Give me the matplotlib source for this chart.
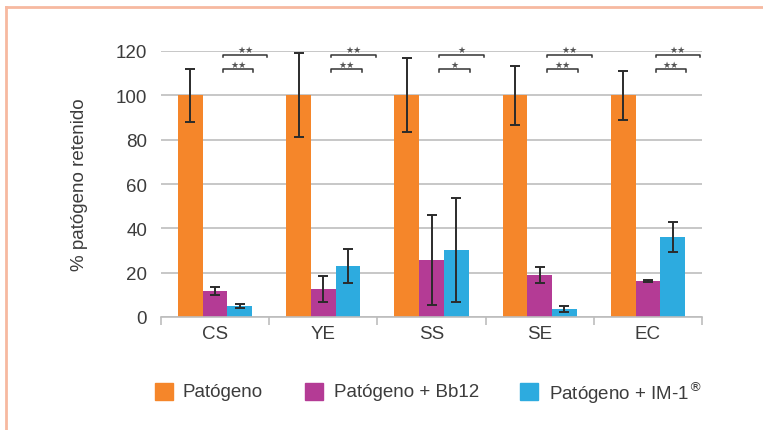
import matplotlib
matplotlib.use("Agg")
import matplotlib.pyplot as plt
from matplotlib.patches import Rectangle
from matplotlib.lines import Line2D
import numpy as np

plt.rcParams['font.family'] = ['Liberation Sans', 'DejaVu Sans']

categories = ["CS", "YE", "SS", "SE", "EC"]
series_names = ["Patógeno", "Patógeno + Bb12", "Patógeno + IM-1$^{®}$"]
patogeno = [100, 100, 100, 100, 100]
patogeno_err = [12, 19, 16.7, 13.3, 11.2]
bb12 = [11.7, 12.6, 25.7, 18.9, 16.2]
bb12_err = [1.9, 5.8, 20.2, 3.5, 0.4]
im1 = [5.0, 23.0, 30.2, 3.6, 36.1]
im1_err = [0.9, 7.6, 23.6, 1.2, 6.6]
# significance marks per category: (upper bracket, lower bracket)
sig_upper = ["★★", "★★", "★", "★★", "★★"]
sig_lower = ["★★", "★★", "★", "★★", "★★"]
yticks = [0, 20, 40, 60, 80, 100, 120]

colors = ["#F5862A", "#B43B95", "#2DABDF"]
text_color = "#3c3c3c"

W, H = 763, 431
fig = plt.figure(figsize=(W / 100, H / 100), dpi=100)
ax = fig.add_axes([161 / W, 1 - 318 / H, (702 - 161) / W, (318 - 52) / H])

x = np.arange(len(categories))
bw = 0.228
offsets = [-bw, 0, bw]
for vals, errs, c, off in zip([patogeno, bb12, im1],
                              [patogeno_err, bb12_err, im1_err], colors, offsets):
    ax.bar(x + off, vals, width=bw, color=c, zorder=2)
    ax.errorbar(x + off, vals, yerr=errs, fmt="none", ecolor="#2b2b2b",
                elinewidth=1.4, capsize=3.5, capthick=1.4, zorder=3)

ax.set_xlim(-0.5, len(categories) - 0.5)
ax.set_ylim(0, 120)
ax.set_yticks(yticks)
ax.yaxis.grid(True, color="#BDBDBD", linewidth=1.2, zorder=0)
ax.set_axisbelow(True)
for s in ["left", "right", "top"]:
    ax.spines[s].set_visible(False)
ax.spines["bottom"].set_color("#BDBDBD")
ax.spines["bottom"].set_linewidth(1.2)
ax.tick_params(axis="y", length=0, labelsize=13.5, labelcolor=text_color, pad=10)
ax.set_xticks(x)
ax.set_xticklabels(categories)
ax.tick_params(axis="x", length=0, labelsize=13.5, labelcolor=text_color, pad=6)
# category separators on the x axis
ax.set_xticks(np.arange(-0.5, len(categories)), minor=True)
ax.tick_params(axis="x", which="minor", length=6, color="#BDBDBD", width=1.2)

ax.set_ylabel("% patógeno retenido", fontsize=13.5, color=text_color, labelpad=20)

# significance brackets
def bracket(xc, x0, x1, y, label):
    d = 1.2
    ax.plot([xc + x0, xc + x0, xc + x1, xc + x1], [y - d, y, y, y - d],
            color="#333333", linewidth=1.1, clip_on=False, zorder=4)
    ax.text(xc + (x0 + x1) / 2, y + 0.2, label, ha="center", va="bottom",
            fontsize=6.5, color="#555555", family=["DejaVu Sans"],
            fontweight="normal", clip_on=False)

for i in range(len(categories)):
    bracket(x[i], 0.071, 0.483, 118.3, sig_upper[i])
    bracket(x[i], 0.071, 0.354, 111.7, sig_lower[i])

# legend
leg_items = [(155, colors[0], series_names[0], 183),
             (305, colors[1], series_names[1], 334),
             (520, colors[2], series_names[2], 549)]
for px, c, label, tx in leg_items:
    fig.add_artist(Rectangle((px / W, 1 - 401 / H), 18 / W, 17 / H,
                             transform=fig.transFigure, color=c))
    fig.text(tx / W, 1 - 393 / H, label, fontsize=13.5, color=text_color,
             va="center", ha="left")

# frame lines along the top and left edges
border = "#F7B9A0"
fig.add_artist(Line2D([6 / W, 1], [1 - 8 / H, 1 - 8 / H], transform=fig.transFigure,
                      color=border, linewidth=2))
fig.add_artist(Line2D([6 / W, 6 / W], [0, 1 - 8 / H], transform=fig.transFigure,
                      color=border, linewidth=2))

fig.savefig("out.png", dpi=100)
